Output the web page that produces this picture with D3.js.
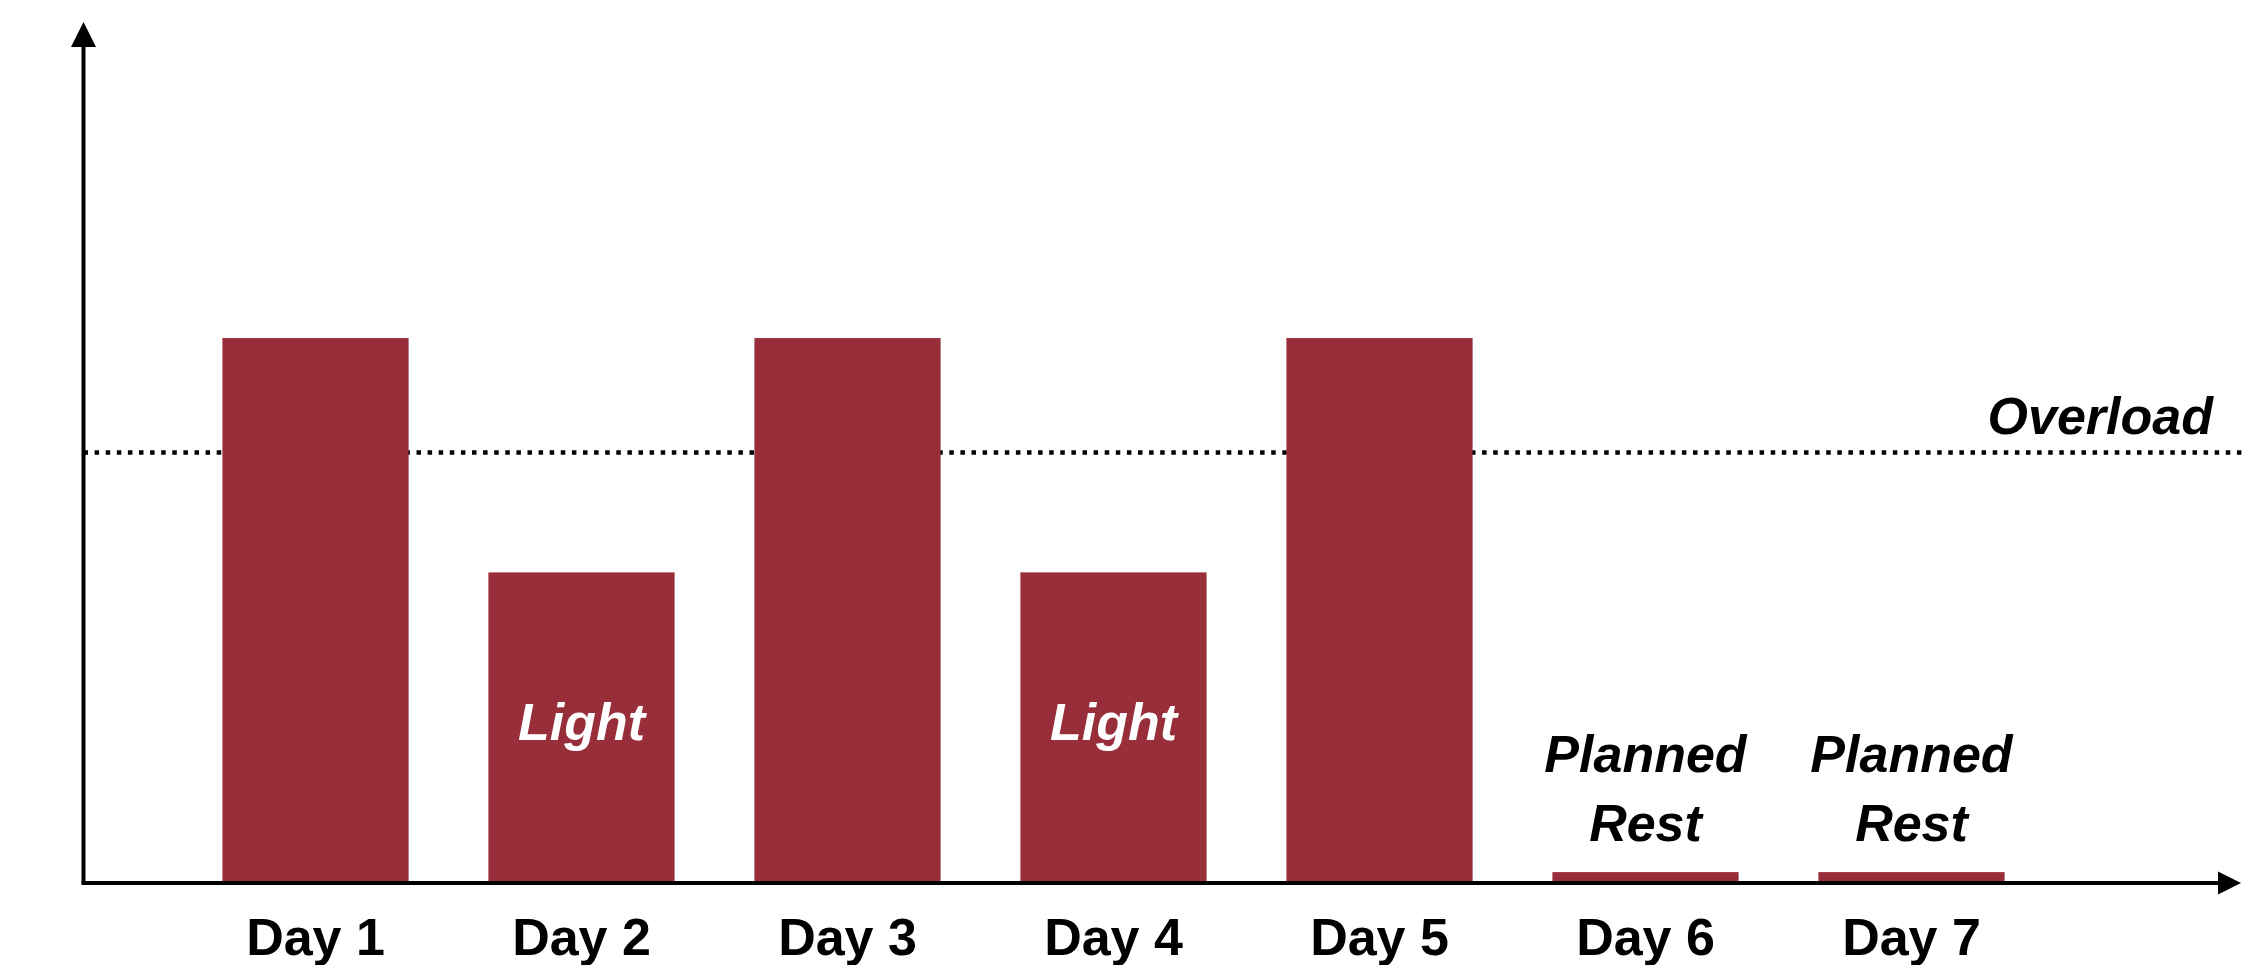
<!DOCTYPE html>
<html>
<head>
<meta charset="utf-8">
<script src="https://cdn.jsdelivr.net/npm/d3@7"></script>
<style>
  html, body { margin: 0; padding: 0; background: #fff; }
  svg { display: block; }
  text { font-family: "Liberation Sans", Arial, sans-serif; font-weight: bold; }
</style>
</head>
<body>
<svg id="chart" width="2243" height="965"></svg>
<script>
// Weekly training load
const days = ["Day 1", "Day 2", "Day 3", "Day 4", "Day 5", "Day 6", "Day 7"];
const load = [100, 57, 100, 57, 100, 2, 2];
const barNotes = ["", "Light", "", "Light", "", "Planned\nRest", "Planned\nRest"];
const overloadLevel = 79;
const overloadLabel = "Overload";

const W = 2243, H = 965;
const originX = 83.5, originY = 883, topY = 22, rightX = 2241;
const barColor = "#972e3a";

const svg = d3.select("#chart");

const x = d3.scaleBand()
  .domain(days)
  .range([182.5, 2044.5])
  .paddingInner(0.3)
  .paddingOuter(0.15);

const y = d3.scaleLinear()
  .domain([0, 158])
  .range([originY, topY]);

// Overload threshold (drawn under the bars)
svg.append("line")
  .attr("x1", originX).attr("x2", W)
  .attr("y1", y(overloadLevel)).attr("y2", y(overloadLevel))
  .attr("stroke", "#000")
  .attr("stroke-width", 4.5)
  .attr("stroke-dasharray", "4.5 6.6");

svg.append("text")
  .attr("x", 2213)
  .attr("y", y(overloadLevel) - 19)
  .attr("text-anchor", "end")
  .attr("font-style", "italic")
  .attr("font-size", 52)
  .attr("fill", "#000")
  .text(overloadLabel);

// Bars
svg.selectAll("rect.bar")
  .data(days)
  .join("rect")
  .attr("class", "bar")
  .attr("x", d => x(d))
  .attr("width", x.bandwidth())
  .attr("y", (d, i) => y(load[i]))
  .attr("height", (d, i) => y(0) - y(load[i]))
  .attr("fill", barColor);

// Notes: inside tall-enough bars in white, above short bars in black
days.forEach((d, i) => {
  const note = barNotes[i];
  if (!note) return;
  const cx = x(d) + x.bandwidth() / 2;
  const lines = note.split("\n");
  const inside = (y(0) - y(load[i])) > 150;
  const t = svg.append("text")
    .attr("text-anchor", "middle")
    .attr("font-style", "italic")
    .attr("font-size", 52)
    .attr("fill", inside ? "#fff" : "#000");
  if (inside) {
    t.attr("x", cx).attr("y", 740).text(note);
  } else {
    const lastBase = y(load[i]) - 31;
    lines.forEach((ln, k) => {
      t.append("tspan")
        .attr("x", cx)
        .attr("y", lastBase - (lines.length - 1 - k) * 69)
        .text(ln);
    });
  }
});

// Category labels
const xAxis = d3.axisBottom(x).tickSize(0).tickPadding(0);
const gx = svg.append("g")
  .attr("transform", `translate(0,${originY})`)
  .call(xAxis);
gx.select(".domain").remove();
gx.selectAll("text")
  .attr("font-size", 52)
  .attr("font-family", "'Liberation Sans', Arial, sans-serif")
  .attr("font-weight", "bold")
  .attr("fill", "#000")
  .attr("dy", null)
  .attr("y", 72);

// Axes with arrowheads
svg.append("line")
  .attr("x1", originX - 2).attr("x2", rightX - 22)
  .attr("y1", originY).attr("y2", originY)
  .attr("stroke", "#000").attr("stroke-width", 4);
svg.append("line")
  .attr("x1", originX).attr("x2", originX)
  .attr("y1", originY).attr("y2", topY + 24)
  .attr("stroke", "#000").attr("stroke-width", 4);
svg.append("path")
  .attr("d", `M${rightX},${originY} L${rightX - 23},${originY - 11.5} L${rightX - 23},${originY + 11.5} Z`)
  .attr("fill", "#000");
svg.append("path")
  .attr("d", `M${originX},${topY} L${originX - 12.5},${topY + 25} L${originX + 12.5},${topY + 25} Z`)
  .attr("fill", "#000");
</script>
</body>
</html>
